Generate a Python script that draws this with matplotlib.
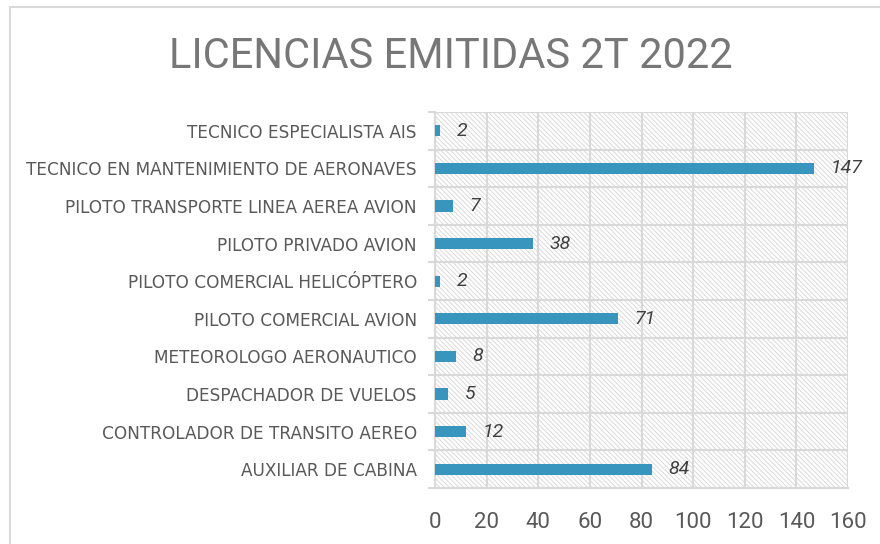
import matplotlib
matplotlib.use("Agg")
import matplotlib.pyplot as plt
from matplotlib.patches import Rectangle
import numpy as np

plt.rcParams['font.family'] = ['Roboto', 'DejaVu Sans']
plt.rcParams['hatch.color'] = '#dadada'
plt.rcParams['hatch.linewidth'] = 0.7

categories = [
    'AUXILIAR DE CABINA',
    'CONTROLADOR DE TRANSITO AEREO',
    'DESPACHADOR DE VUELOS',
    'METEOROLOGO AERONAUTICO',
    'PILOTO COMERCIAL AVION',
    'PILOTO COMERCIAL HELICÓPTERO',
    'PILOTO PRIVADO AVION',
    'PILOTO TRANSPORTE LINEA AEREA AVION',
    'TECNICO EN MANTENIMIENTO DE AERONAVES',
    'TECNICO ESPECIALISTA AIS',
]
licencias = [84, 12, 5, 8, 71, 2, 38, 7, 147, 2]
x_ticks = [0, 20, 40, 60, 80, 100, 120, 140, 160]

BAR_COLOR = '#3795be'
GRID = '#d9d9d9'
TEXT = '#595959'

fig = plt.figure(figsize=(8.8, 5.44), dpi=100)
ax = fig.add_axes([435 / 880, 1 - 488 / 544, 413 / 880, 376 / 544])

# hatched background
bg = Rectangle((0, 0), 1, 1, transform=ax.transAxes, facecolor='white',
               edgecolor='#dadada', hatch='\\' * 7, linewidth=0, zorder=0)
ax.add_patch(bg)

y = np.arange(len(categories))
ax.barh(y, licencias, height=0.3, color=BAR_COLOR, zorder=3)

for yi, v in zip(y, licencias):
    ax.annotate(str(v), (v, yi), xytext=(12, 0), textcoords='offset points',
                ha='left', va='center', fontsize=14, style='italic',
                color='#404040', zorder=4)

ax.set_xlim(0, 160)
ax.set_ylim(-0.5, len(categories) - 0.5)
ax.set_xticks(x_ticks)
ax.set_xticklabels([str(t) for t in x_ticks], fontsize=16, color=TEXT)
ax.set_yticks(y)
ax.set_yticklabels(categories, fontsize=12.2, color=TEXT, family='DejaVu Sans')
ax.set_yticks(np.arange(-0.5, len(categories)), minor=True)

ax.tick_params(axis='x', length=0, pad=17)
ax.tick_params(axis='y', which='major', length=0, pad=13)
ax.tick_params(axis='y', which='minor', length=5, width=1.5, color=GRID)

ax.grid(axis='x', which='major', color=GRID, linewidth=1.5, zorder=1)
ax.grid(axis='y', which='minor', color=GRID, linewidth=1.5, zorder=1)
ax.set_axisbelow(True)

for side in ['top', 'right']:
    ax.spines[side].set_visible(False)
for side in ['left', 'bottom']:
    ax.spines[side].set_color(GRID)
    ax.spines[side].set_linewidth(1.5)

fig.text(0.5125, 1 - 57 / 544, 'LICENCIAS EMITIDAS 2T 2022', ha='center',
         va='center', fontsize=30, color='#777777')

# chart border
fig.patches.append(Rectangle((10 / 880, -0.1), 1.2, 1.1 - 7 / 544,
                             transform=fig.transFigure, fill=False,
                             edgecolor=GRID, linewidth=1.5))

fig.savefig('out.png', dpi=100, facecolor='white')
